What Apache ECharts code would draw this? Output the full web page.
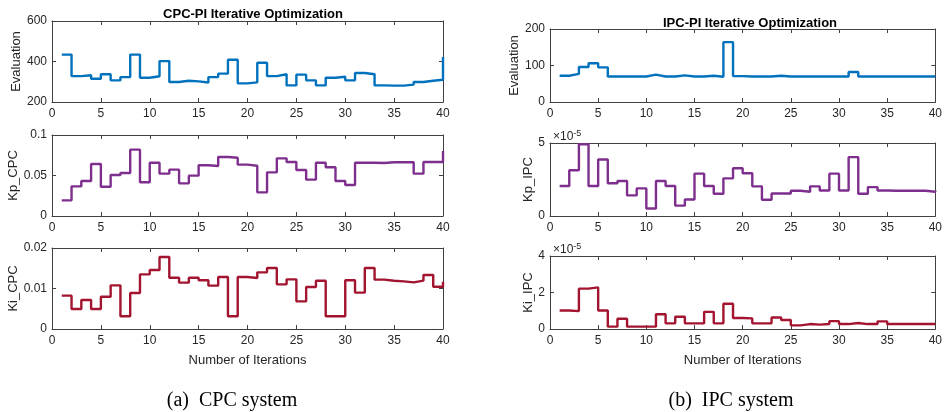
<!DOCTYPE html>
<html>
<head>
<meta charset="utf-8">
<title>PI Iterative Optimization</title>
<script src="https://cdn.jsdelivr.net/npm/echarts@6/dist/echarts.min.js"></script>
<style>
  html, body { margin: 0; padding: 0; background: #fff; }
  #chart { width: 945px; height: 412px; }
</style>
</head>
<body>
<div id="chart"></div>
<script>
// Iteration index shared by every panel
const iterations = Array.from({ length: 40 }, (_, i) => i + 1);

// CPC system
const cpcEvaluation = [434, 328, 332, 315, 337, 307, 323, 434, 320, 327,
  402, 299, 305, 302, 296, 323, 340, 409, 292, 297,
  394, 328, 337, 282, 335, 307, 282, 320, 325, 307,
  343, 337, 282, 281, 281, 286, 299, 305, 310, 422];
const cpcKp = [0.0193, 0.0366, 0.0432, 0.0642, 0.0362, 0.0506, 0.0531, 0.0819, 0.0416, 0.0658,
  0.0523, 0.0572, 0.0403, 0.0498, 0.0626, 0.0617, 0.0728, 0.0720, 0.0634, 0.0621,
  0.0292, 0.0539, 0.0712, 0.0667, 0.0568, 0.0449, 0.0658, 0.0601, 0.0432, 0.0383,
  0.0658, 0.0658, 0.0654, 0.0663, 0.0663, 0.0663, 0.0523, 0.0667, 0.0667, 0.0802];
const cpcKi = [0.00823, 0.00494, 0.00716, 0.00494, 0.00798, 0.01078, 0.00313, 0.00889, 0.01350, 0.01457,
  0.01778, 0.01267, 0.01144, 0.01267, 0.01202, 0.01070, 0.01284, 0.00313, 0.01284, 0.01259,
  0.01399, 0.01506, 0.01103, 0.01226, 0.00683, 0.01037, 0.01193, 0.00313, 0.00313, 0.01202,
  0.00897, 0.01506, 0.01218, 0.01193, 0.01177, 0.01152, 0.01193, 0.01333, 0.01045, 0.01169];

// IPC system
const ipcEvaluation = [72, 77, 96, 106, 95, 70, 70, 70, 70, 75,
  70, 70, 73, 70, 70, 72, 69, 164, 71, 70,
  70, 70, 72, 70, 70, 70, 70, 70, 70, 70,
  82, 70, 70, 70, 70, 70, 70, 70, 70, 70];
const ipcKp = [2.05e-5, 3.13e-5, 4.91e-5, 2.05e-5, 3.87e-5, 2.24e-5, 2.40e-5, 1.41e-5, 1.89e-5, 0.51e-5,
  2.40e-5, 2.05e-5, 0.71e-5, 1.13e-5, 2.90e-5, 2.05e-5, 1.52e-5, 2.58e-5, 3.27e-5, 2.93e-5,
  2.03e-5, 1.11e-5, 1.54e-5, 1.54e-5, 1.73e-5, 1.66e-5, 2.03e-5, 1.75e-5, 2.90e-5, 1.75e-5,
  4.03e-5, 1.52e-5, 1.98e-5, 1.75e-5, 1.73e-5, 1.73e-5, 1.73e-5, 1.73e-5, 1.66e-5, 1.75e-5];
const ipcKi = [1.01e-5, 0.98e-5, 2.21e-5, 2.28e-5, 1.01e-5, 0.13e-5, 0.56e-5, 0.13e-5, 0.13e-5, 0.13e-5,
  0.81e-5, 0.31e-5, 0.67e-5, 0.31e-5, 0.31e-5, 0.94e-5, 0.31e-5, 1.38e-5, 0.60e-5, 0.58e-5,
  0.31e-5, 0.31e-5, 0.63e-5, 0.49e-5, 0.20e-5, 0.27e-5, 0.24e-5, 0.27e-5, 0.43e-5, 0.27e-5,
  0.33e-5, 0.27e-5, 0.27e-5, 0.42e-5, 0.27e-5, 0.27e-5, 0.27e-5, 0.27e-5, 0.27e-5, 0.27e-5];

// Text
const titles = ['CPC-PI Iterative Optimization', 'IPC-PI Iterative Optimization'];
const captions = ['(a)  CPC system', '(b)  IPC system'];
const xAxisName = 'Number of Iterations';
const xTicks = { min: 0, max: 40, interval: 5 };

const SANS = '"Liberation Sans", Arial, Helvetica, sans-serif';
const SERIF = '"Liberation Serif", "Times New Roman", Times, serif';
const AXIS_COLOR = '#404040';
const TEXT_COLOR = '#262626';
const BLUE = '#0072BD', PURPLE = '#7E2F8E', RED = '#A2142F';

// Panel descriptions: grid box, y range, data and styling
const panels = [
  { grid: [52, 21, 391, 81], y: [200, 600, 200], data: cpcEvaluation, color: BLUE, name: 'Evaluation', gap: 28, last: false },
  { grid: [52, 135, 391, 81], y: [0, 0.1, 0.05], data: cpcKp, color: PURPLE, name: 'Kp_CPC', gap: 32, last: false },
  { grid: [52, 248, 391, 81], y: [0, 0.02, 0.01], data: cpcKi, color: RED, name: 'Ki_CPC', gap: 32, last: true },
  { grid: [550, 29, 391, 73], y: [0, 200, 100], data: ipcEvaluation, color: BLUE, name: 'Evaluation', gap: 29, last: false },
  { grid: [550, 143, 391, 73], y: [0, 5e-5, 5e-5], data: ipcKp, color: PURPLE, name: 'Kp_IPC', gap: 15, last: false, exp: true },
  { grid: [550, 256, 391, 73], y: [0, 4e-5, 2e-5], data: ipcKi, color: RED, name: 'Ki_IPC', gap: 15, last: true, exp: true }
];

function yLabel(p) {
  return function (v) {
    if (p.exp) return String(Math.round(v * 1e5));
    return String(+v.toFixed(4));
  };
}

const grid = [], xAxis = [], yAxis = [], series = [];
panels.forEach((p, i) => {
  grid.push({ left: p.grid[0], top: p.grid[1], width: p.grid[2], height: p.grid[3], containLabel: false });
  const tick = { show: true, inside: true, length: 4, lineStyle: { color: AXIS_COLOR, width: 1 } };
  const line = { show: true, onZero: false, lineStyle: { color: AXIS_COLOR, width: 1 } };
  // bottom and top x axes (box with inward ticks)
  xAxis.push({
    type: 'value', gridIndex: i, position: 'bottom', min: xTicks.min, max: xTicks.max, interval: xTicks.interval,
    axisLine: line, axisTick: tick, splitLine: { show: false },
    axisLabel: { show: true, margin: 6, color: TEXT_COLOR, fontFamily: SANS, fontSize: 12 },
    name: p.last ? xAxisName : '', nameLocation: 'middle', nameGap: 25,
    nameTextStyle: { color: TEXT_COLOR, fontFamily: SANS, fontSize: 13 }
  });
  xAxis.push({
    type: 'value', gridIndex: i, position: 'top', min: xTicks.min, max: xTicks.max, interval: xTicks.interval,
    axisLine: line, axisTick: tick, axisLabel: { show: false }, splitLine: { show: false }
  });
  // left and right y axes
  yAxis.push({
    type: 'value', gridIndex: i, position: 'left', min: p.y[0], max: p.y[1], interval: p.y[2],
    axisLine: line, axisTick: tick, splitLine: { show: false },
    axisLabel: { show: true, margin: 5, color: TEXT_COLOR, fontFamily: SANS, fontSize: 12, formatter: yLabel(p) },
    name: p.name, nameLocation: 'middle', nameGap: p.gap, nameRotate: 90,
    nameTextStyle: { color: TEXT_COLOR, fontFamily: SANS, fontSize: 13 }
  });
  yAxis.push({
    type: 'value', gridIndex: i, position: 'right', min: p.y[0], max: p.y[1], interval: p.y[2],
    axisLine: line, axisTick: tick, axisLabel: { show: false }, splitLine: { show: false }
  });
  // stairs: each value holds from its iteration to the next one
  series.push({
    type: 'line', xAxisIndex: 2 * i, yAxisIndex: 2 * i, step: 'end',
    data: iterations.map((it, k) => [it, p.data[k]]),
    showSymbol: false, symbol: 'none', silent: true, animation: false,
    lineStyle: { color: p.color, width: 2.4 }
  });
});

const expText = {
  fontFamily: SANS, fontSize: 12, fontWeight: 'normal', color: TEXT_COLOR,
  rich: { s: { fontFamily: SANS, fontSize: 9, fontWeight: 'normal', color: TEXT_COLOR, verticalAlign: 'top', padding: [0, 0, 7, 0] } }
};

const titleItems = [
  { text: titles[0], left: 248, top: 3, textAlign: 'center', textStyle: { fontFamily: SANS, fontSize: 13, fontWeight: 'bold', color: '#000' } },
  { text: titles[1], left: 745, top: 12, textAlign: 'center', textStyle: { fontFamily: SANS, fontSize: 13, fontWeight: 'bold', color: '#000' } },
  { text: captions[0], left: 227, top: 386, textAlign: 'center', textStyle: { fontFamily: SERIF, fontSize: 20, fontWeight: 'normal', color: '#000' } },
  { text: captions[1], left: 726, top: 386, textAlign: 'center', textStyle: { fontFamily: SERIF, fontSize: 20, fontWeight: 'normal', color: '#000' } },
  // exponent markers for the scaled IPC gain axes
  { text: '×10{s|-5}', left: 548, top: 124, textStyle: expText },
  { text: '×10{s|-5}', left: 548, top: 237, textStyle: expText }
];

const chart = echarts.init(document.getElementById('chart'), null, { renderer: 'canvas' });
chart.setOption({
  animation: false,
  backgroundColor: '#fff',
  title: titleItems,
  grid, xAxis, yAxis, series
});
</script>
</body>
</html>
